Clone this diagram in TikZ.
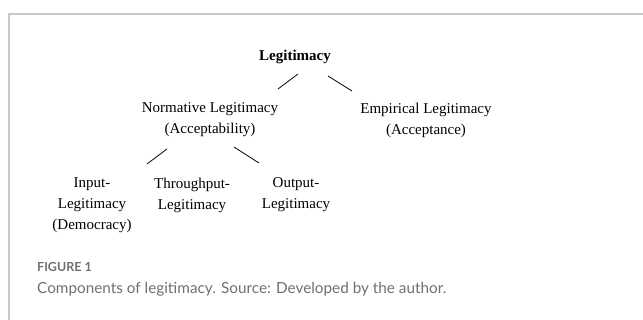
\documentclass[tikz,border=0pt]{standalone}
\usepackage{fontspec}
\setmainfont{Liberation Serif}
\newfontfamily\capfont{Lato}
\usetikzlibrary{positioning, calc}

\definecolor{framegray}{RGB}{200,200,200}
\definecolor{capgray}{RGB}{112,112,112}

\begin{document}
\begin{tikzpicture}[x=1pt,y=-1pt,
    lvl/.style={inner sep=0pt, align=center, font=\fontsize{15}{21}\selectfont},
    captext/.style={inner sep=0pt, anchor=west, text=capgray}]

  \useasboundingbox (0,0) rectangle (643,320);

  %% frame
  \draw[framegray, line width=1.5pt] (9,320) -- (9,14) -- (643,14);

  %% top
  \node [lvl, font=\fontsize{15}{21}\selectfont\bfseries] (legit) at (295,57) {Legitimacy};

  %% level 2
  \node [lvl] (norm) at (210,120) {Normative Legitimacy\\(Acceptability)};
  \node [lvl] (emp) at (426,120) {Empirical Legitimacy\\(Acceptance)};

  %% level 3
  \node [lvl] (input) at (92,205.5) {Input-\\Legitimacy\\(Democracy)};
  \node [lvl] (through) at (192,195) {Throughput-\\Legitimacy};
  \node [lvl] (output) at (296,195) {Output-\\Legitimacy};

  \draw[line width=0.8pt] ($(legit) + (3,17)$) -- ($(norm) + (68,-31)$);
  \draw[line width=0.8pt] ($(legit) + (33,19)$) -- ($(emp) + (-74,-29)$);
  \draw[line width=0.8pt] ($(norm) + (-43,29)$) -- ($(input) + (55,-41.5)$);
  \draw[line width=0.8pt] ($(norm) + (24,27)$) -- ($(output) + (-37,-32)$);

  %% caption
  \node [captext, font=\capfont\fontsize{12.5}{14}\selectfont\bfseries] (fig) at (37,267) {FIGURE 1};
  \node [captext, font=\capfont\fontsize{15.3}{18}\selectfont] (caption) at (37,289) {Components of legitimacy. Source: Developed by the author.};

\end{tikzpicture}
\end{document}
